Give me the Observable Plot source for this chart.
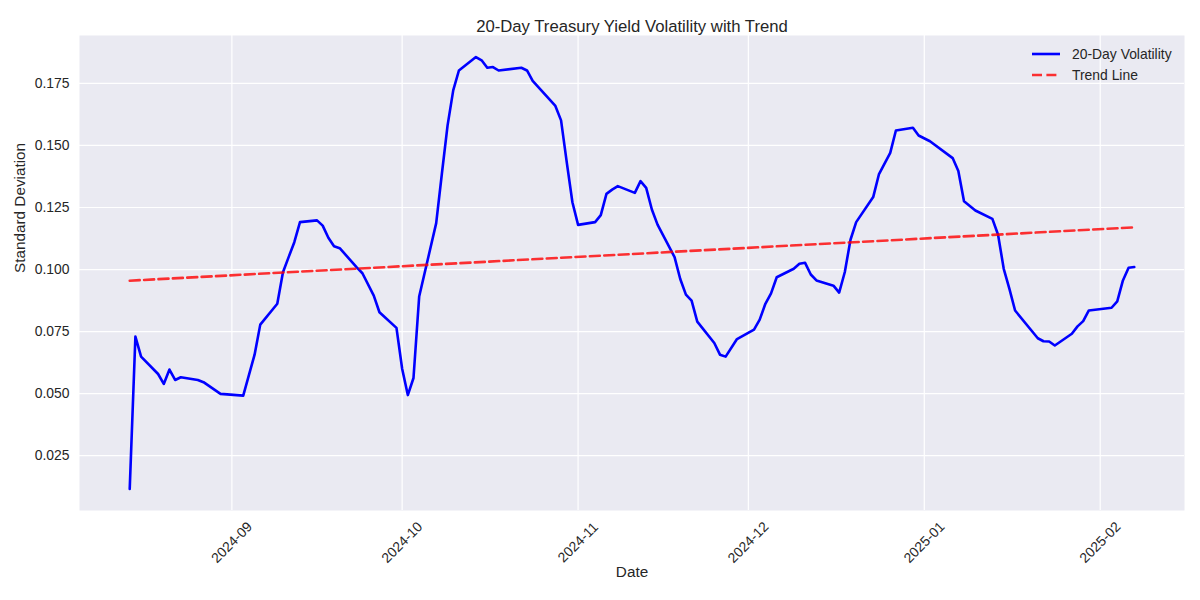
<!DOCTYPE html>
<html><head><meta charset="utf-8">
<script src="https://cdn.jsdelivr.net/npm/d3@7"></script>
<script src="https://cdn.jsdelivr.net/npm/@observablehq/plot@0.6"></script>
<style>html,body{margin:0;padding:0;background:#fff}</style>
</head><body><div id="chart"></div>
<script>
// ---- data ----
const dates = [
 "2024-08-14","2024-08-15","2024-08-16","2024-08-19","2024-08-20","2024-08-21","2024-08-22","2024-08-23",
 "2024-08-26","2024-08-27","2024-08-30","2024-09-03","2024-09-05","2024-09-06","2024-09-09","2024-09-10",
 "2024-09-11","2024-09-12","2024-09-13","2024-09-16","2024-09-17","2024-09-18","2024-09-19","2024-09-20",
 "2024-09-23","2024-09-24","2024-09-26","2024-09-27","2024-09-30","2024-10-01","2024-10-02","2024-10-03",
 "2024-10-04","2024-10-07","2024-10-08","2024-10-09","2024-10-10","2024-10-11","2024-10-14","2024-10-15",
 "2024-10-16","2024-10-17","2024-10-18","2024-10-22","2024-10-23","2024-10-24","2024-10-28","2024-10-29",
 "2024-10-30","2024-10-31","2024-11-01","2024-11-04","2024-11-05","2024-11-06","2024-11-07","2024-11-08",
 "2024-11-11","2024-11-12","2024-11-13","2024-11-14","2024-11-15","2024-11-18","2024-11-19","2024-11-20",
 "2024-11-21","2024-11-22","2024-11-25","2024-11-26","2024-11-27","2024-11-29","2024-12-02","2024-12-03",
 "2024-12-04","2024-12-05","2024-12-06","2024-12-09","2024-12-10","2024-12-11","2024-12-12","2024-12-13",
 "2024-12-16","2024-12-17","2024-12-18","2024-12-19","2024-12-20","2024-12-23","2024-12-24","2024-12-26",
 "2024-12-27","2024-12-30","2024-12-31","2025-01-02","2025-01-06","2025-01-07","2025-01-08","2025-01-10",
 "2025-01-13","2025-01-14","2025-01-15","2025-01-16","2025-01-17","2025-01-21","2025-01-22","2025-01-23",
 "2025-01-24","2025-01-27","2025-01-28","2025-01-29","2025-01-30","2025-02-03","2025-02-04","2025-02-05",
 "2025-02-06","2025-02-07"
];
const volatility = [
 0.0116,0.0730,0.0649,0.0579,0.0539,0.0597,0.0555,0.0566,
 0.0555,0.0546,0.0499,0.0492,0.0657,0.0778,0.0862,0.0989,
 0.1050,0.1110,0.1191,0.1198,0.1177,0.1128,0.1094,0.1086,
 0.1009,0.0985,0.0895,0.0828,0.0765,0.0600,0.0494,0.0563,
 0.0891,0.1187,0.1386,0.1580,0.1722,0.1802,0.1856,0.1843,
 0.1813,0.1816,0.1802,0.1813,0.1802,0.1760,0.1659,0.1601,
 0.1433,0.1271,0.1180,0.1191,0.1219,0.1305,0.1322,0.1336,
 0.1309,0.1356,0.1329,0.1242,0.1181,0.1050,0.0962,0.0899,
 0.0875,0.0790,0.0704,0.0657,0.0649,0.0720,0.0758,0.0798,
 0.0862,0.0904,0.0969,0.1003,0.1023,0.1027,0.0980,0.0956,
 0.0935,0.0907,0.0990,0.1120,0.1191,0.1292,0.1383,0.1470,
 0.1560,0.1571,0.1540,0.1517,0.1449,0.1397,0.1275,0.1238,
 0.1204,0.1140,0.1003,0.0922,0.0835,0.0723,0.0711,0.0710,
 0.0694,0.0741,0.0771,0.0792,0.0835,0.0846,0.0872,0.0956,
 0.1007,0.1010
];
const trendDates = ["2024-08-14","2025-02-07"];
const trendValues = [0.0955, 0.1170];
const yTicks = [0.025, 0.050, 0.075, 0.100, 0.125, 0.150, 0.175];
const xTickLabels = ["2024-09","2024-10","2024-11","2024-12","2025-01","2025-02"];
const seriesNames = ["20-Day Volatility","Trend Line"];

// ---- build ----
const parse = d3.utcParse("%Y-%m-%d");
const volData = dates.map((d, i) => ({date: parse(d), value: volatility[i]}));
const trendData = trendDates.map((d, i) => ({date: parse(d), value: trendValues[i]}));
const xTicks = xTickLabels.map(s => parse(s + "-01"));
const [x0, x1] = d3.extent(volData, d => d.date);
const xpad = (x1 - x0) * 0.05;
const [y0, y1] = d3.extent(volData, d => d.value);
const ypad = (y1 - y0) * 0.05;

const FONT = "'Liberation Sans', Arial, sans-serif";
const TXT = "#262626";

const plot = Plot.plot({
  width: 1200, height: 600,
  marginLeft: 79, marginRight: 16, marginTop: 35, marginBottom: 90,
  style: {fontFamily: FONT, color: TXT, background: "#fff", overflow: "visible"},
  x: {type: "utc", domain: [new Date(+x0 - xpad), new Date(+x1 + xpad)]},
  y: {domain: [y0 - ypad, y1 + ypad]},
  marks: [
    Plot.frame({fill: "#eaeaf2", stroke: "none"}),
    Plot.gridX(xTicks, {stroke: "#ffffff", strokeOpacity: 1, strokeWidth: 1.2}),
    Plot.gridY(yTicks, {stroke: "#ffffff", strokeOpacity: 1, strokeWidth: 1.2}),
    Plot.axisX(xTicks, {tickSize: 0, tickRotate: -45, textAnchor: "middle", lineAnchor: "middle",
      tickPadding: 32, tickFormat: d3.utcFormat("%Y-%m"), fontSize: 13.9, label: null}),
    Plot.axisY(yTicks, {tickSize: 0, tickPadding: 10, tickFormat: d3.format(".3f"), fontSize: 13.9, label: null}),
    Plot.line(volData, {x: "date", y: "value", stroke: "#0000ff", strokeWidth: 2.6}),
    Plot.line(trendData, {x: "date", y: "value", stroke: "#ff0000", strokeOpacity: 0.8,
      strokeWidth: 2.6, strokeDasharray: "10,4.4"}),
    Plot.text(["20-Day Treasury Yield Volatility with Trend"], {frameAnchor: "top", dy: -15, fontSize: 16.7}),
    Plot.text(["Date"], {frameAnchor: "bottom", dy: 66, fontSize: 15.3}),
    Plot.text(["Standard Deviation"], {frameAnchor: "left", dx: -59, rotate: -90, fontSize: 15.3})
  ]
});

// legend (inside plot, top right)
const svg = d3.select(plot);
const lg = svg.append("g").attr("font-family", FONT).attr("font-size", 13.9)
  .attr("fill", TXT).attr("text-anchor", "start");
const legendStyles = [
  {stroke: "#0000ff", opacity: 1, dash: null},
  {stroke: "#ff0000", opacity: 0.8, dash: "10,4.4"}
];
seriesNames.forEach((name, i) => {
  const y = 54 + i * 21;
  lg.append("line").attr("x1", 1032).attr("x2", 1060).attr("y1", y).attr("y2", y)
    .attr("stroke", legendStyles[i].stroke).attr("stroke-opacity", legendStyles[i].opacity)
    .attr("stroke-width", 2.6).attr("stroke-dasharray", legendStyles[i].dash);
  lg.append("text").attr("x", 1072).attr("y", y).attr("dy", "0.35em")
    .attr("text-anchor", "start").text(name);
});

document.getElementById("chart").appendChild(plot);
</script>
</body></html>
